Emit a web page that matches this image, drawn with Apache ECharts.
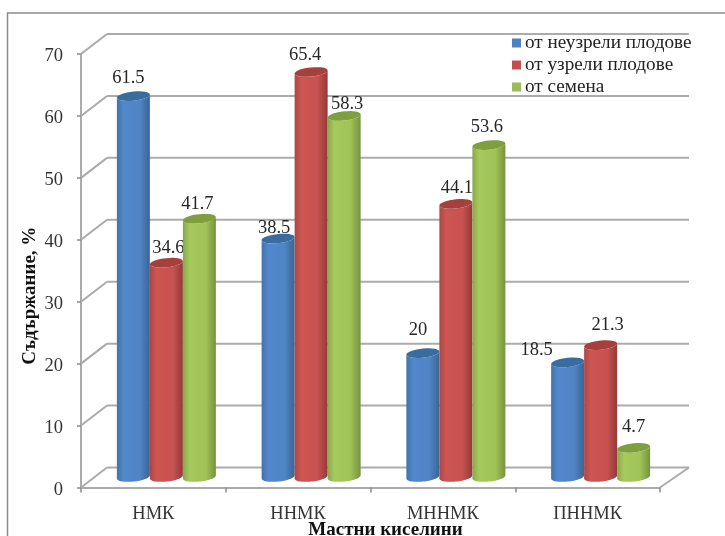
<!DOCTYPE html>
<html>
<head>
<meta charset="utf-8">
<style>html,body{margin:0;padding:0;background:#fff}#chart{width:725px;height:536px}</style>
<script src="https://cdn.jsdelivr.net/npm/echarts@6/dist/echarts.min.js"></script>
</head>
<body>
<div id="chart"></div>
<script>
// Fatty acid content by fruit/seed source
const categories = ['НМК', 'ННМК', 'МННМК', 'ПННМК'];
const unripeFruit = [61.5, 38.5, 20, 18.5];
const ripeFruit = [34.6, 65.4, 44.1, 21.3];
const seeds = [41.7, 58.3, 53.6, 4.7];
const yTicks = [0, 10, 20, 30, 40, 50, 60, 70];
const seriesNames = ['от неузрели плодове', 'от узрели плодове', 'от семена'];

// Label nudges in px from the top centre of each cylinder
const labelNudgeX = [[-5, -4, -5, -31], [2, -6, 1, 7], [-2, 3, -2, 0]];
const labelNudgeY = [[-18, -10.5, -23.5, -12], [-15, -17, -15.5, -19.5], [-14.5, -12, -18, -20.5]];

const font = '"Liberation Serif", "Times New Roman", serif';
const depth = { x: 26, y: -20 };        // shift from front plane to back wall
const barShift = { x: 13, y: -10.5 };   // cylinders stand part-way through the depth
const barWidth = 33;
const ry = 4.6, tilt = 1.6;

const palette = [
  { top: '#3A6C9F', stops: ['#4272A8', '#5288CC', '#4F84C6', '#3B6593'], legend: '#4F81BD' },
  { top: '#A5403D', stops: ['#AC4744', '#CD5552', '#C85250', '#933A38'], legend: '#C0504D' },
  { top: '#7F9F3E', stops: ['#89A84B', '#A6C95C', '#A0C257', '#76933F'], legend: '#9BBB59' }
];

function ellipse(cx, cy, from, to) {
  const pts = [], rx = barWidth / 2;
  for (let i = 0; i <= 32; i++) {
    const t = from + (to - from) * i / 32;
    pts.push([cx + rx * Math.cos(t), cy + ry * Math.sin(t) - tilt * Math.cos(t)]);
  }
  return pts;
}

function cylinder(seriesIndex) {
  return function (params, api) {
    const base = api.coord([api.value(0), 0]);
    const head = api.coord([api.value(0), api.value(1)]);
    const cx = base[0] + barShift.x + (seriesIndex - 1) * barWidth;
    const by = base[1] + barShift.y, ty = head[1] + barShift.y;
    const p = palette[seriesIndex];
    const side = ellipse(cx, by, 0, Math.PI).concat(ellipse(cx, ty, Math.PI, 0));
    return {
      type: 'group',
      children: [
        {
          type: 'polygon',
          shape: { points: side },
          style: {
            fill: {
              type: 'linear', x: 0, y: 0, x2: 1, y2: 0,
              colorStops: [
                { offset: 0, color: p.stops[0] },
                { offset: 0.2, color: p.stops[1] },
                { offset: 0.7, color: p.stops[2] },
                { offset: 1, color: p.stops[3] }
              ]
            }
          }
        },
        { type: 'polygon', shape: { points: ellipse(cx, ty, 0, Math.PI * 2) }, style: { fill: p.top } },
        {
          type: 'text',
          style: {
            text: String(api.value(1)),
            x: cx + labelNudgeX[seriesIndex][params.dataIndex],
            y: ty + labelNudgeY[seriesIndex][params.dataIndex],
            align: 'center', verticalAlign: 'middle',
            font: '18.5px ' + font, fill: '#262626'
          }
        }
      ]
    };
  };
}

// Back wall, left wall and floor edges, all derived from the value axis
function walls(params, api) {
  const v = api.value(0);
  const left = api.coord([0, v]);
  const x0 = params.coordSys.x, x1 = x0 + params.coordSys.width;
  const line = { stroke: '#ABABAB', lineWidth: 2 };
  const children = [
    { type: 'line', shape: { x1: x0, y1: left[1], x2: x0 + depth.x, y2: left[1] + depth.y }, style: line },
    { type: 'line', shape: { x1: x0 + depth.x, y1: left[1] + depth.y, x2: x1 + depth.x + 3, y2: left[1] + depth.y }, style: line }
  ];
  if (v === 0) {
    children.push({ type: 'line', shape: { x1: x1, y1: left[1], x2: x1 + depth.x + 3, y2: left[1] + depth.y }, style: line });
  }
  return { type: 'group', children };
}

const chart = echarts.init(document.getElementById('chart'), null, { renderer: 'canvas' });
chart.setOption({
  animation: false,
  backgroundColor: '#fff',
  grid: { left: 81, right: 65, top: 54, bottom: 48.5, outerBoundsMode: 'none' },
  legend: {
    data: seriesNames,
    orient: 'vertical',
    left: 507, top: 28.5,
    itemWidth: 9, itemHeight: 9, itemGap: 3, icon: 'rect',
    selectedMode: false,
    textStyle: { fontFamily: font, fontSize: 19.2, color: '#222', padding: [0, 0, 0, -1] }
  },
  graphic: [{
    type: 'rect', silent: true, z: -1,
    shape: { x: 7.5, y: 13, width: 760, height: 600 },
    style: { fill: 'none', stroke: '#8C8C8C', lineWidth: 1.5 }
  }],
  xAxis: {
    type: 'category',
    data: categories,
    name: 'Мастни киселини',
    nameLocation: 'middle',
    nameMoveOverlap: false,
    nameGap: 42.5,
    nameTextStyle: { fontFamily: font, fontSize: 19, fontWeight: 'bold', color: '#111', padding: [0, 0, 0, 30], verticalAlign: 'middle' },
    axisLine: { lineStyle: { color: '#ABABAB', width: 2 } },
    axisTick: { show: true, length: 5, lineStyle: { color: '#8C8C8C', width: 1.5 } },
    axisLabel: { fontFamily: font, fontSize: 18.5, color: '#333', margin: 17 }
  },
  yAxis: {
    type: 'value',
    min: 0, max: 70, interval: 10,
    name: 'Съдържание, %',
    nameLocation: 'middle',
    nameMoveOverlap: false,
    nameGap: 51,
    nameTextStyle: { fontFamily: font, fontSize: 19, fontWeight: 'bold', color: '#111', padding: [0, 50, 0, 0], verticalAlign: 'middle' },
    axisLine: { show: true, lineStyle: { color: '#ABABAB', width: 2 } },
    axisTick: { show: true, length: 4, lineStyle: { color: '#8C8C8C', width: 1.5 } },
    axisLabel: {
      margin: 18,
      formatter: '{t|{value}}',
      rich: { t: { fontFamily: font, fontSize: 18.5, color: '#333', padding: [5, 0, 0, 0] } }
    },
    splitLine: { show: false }
  },
  series: [
    { type: 'custom', name: 'walls', coordinateSystem: 'cartesian2d', silent: true, z: 1,
      renderItem: walls, encode: { x: 1, y: 0 }, data: yTicks.map(v => [v, 0]), clip: false },
    ...[unripeFruit, ripeFruit, seeds].map((vals, i) => ({
      type: 'custom',
      name: seriesNames[i],
      coordinateSystem: 'cartesian2d',
      z: 2 + i,
      clip: false,
      itemStyle: { color: palette[i].legend },
      renderItem: cylinder(i),
      encode: { x: 0, y: 1 },
      data: vals.map((v, k) => [k, v])
    }))
  ]
});
</script>
</body>
</html>
